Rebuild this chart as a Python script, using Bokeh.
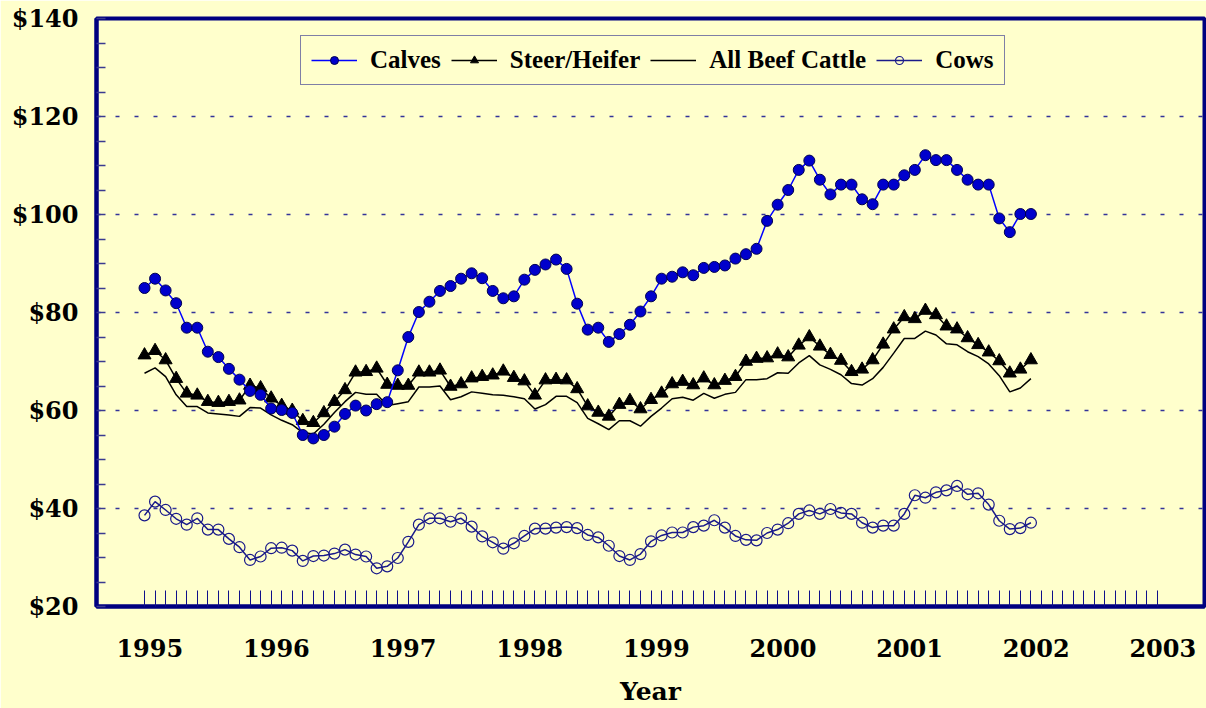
import numpy as np
from bokeh.plotting import figure
from bokeh.models import FixedTicker, Legend, LegendItem, Range1d
from bokeh.embed import file_html
from bokeh.resources import INLINE

# ---- data (monthly, Jan 1995 .. Jan 2002) ----
months = [f"{y}-{m:02d}" for y in range(1995, 2002) for m in range(1, 13)] + ["2002-01"]
year_labels = ["1995", "1996", "1997", "1998", "1999", "2000", "2001", "2002", "2003"]
y_tick_values = [20, 40, 60, 80, 100, 120, 140]
y_tick_labels = ["$20", "$40", "$60", "$80", "$100", "$120", "$140"]

calves = [85.0, 86.9, 84.5, 81.9, 76.9, 76.9, 72.0, 70.9, 68.5, 66.3, 64.0, 63.2,
          60.4, 60.1, 59.5, 55.0, 54.3, 55.0, 56.7, 59.3, 61.0, 60.0, 61.3, 61.7,
          68.2, 75.0, 80.1, 82.2, 84.4, 85.4, 86.9, 88.0, 87.0, 84.4, 82.9, 83.3,
          86.7, 88.7, 89.8, 90.8, 88.9, 81.8, 76.5, 76.9, 74.0, 75.6, 77.5, 80.2,
          83.3, 86.9, 87.3, 88.2, 87.6, 89.1, 89.3, 89.6, 91.0, 91.9, 93.0, 98.7,
          102.0, 105.0, 109.1, 111.0, 107.1, 104.1, 106.1, 106.1, 103.1, 102.1, 106.1, 106.1,
          108.0, 109.1, 112.1, 111.1, 111.1, 109.1, 107.1, 106.1, 106.1, 99.2, 96.4, 100.1,
          100.1]

steer_heifer = [71.3, 72.2, 70.3, 66.5, 63.5, 63.1, 61.8, 61.6, 61.8, 62.1, 65.1, 64.6,
                62.5, 61.0, 60.0, 57.9, 57.5, 59.5, 61.8, 64.2, 67.8, 67.9, 68.6, 65.3,
                65.1, 65.1, 67.8, 67.8, 68.2, 64.9, 65.4, 66.6, 66.9, 67.2, 68.0, 66.7,
                66.0, 63.1, 66.2, 66.3, 66.2, 64.4, 60.9, 59.6, 58.8, 61.2, 62.0, 60.3,
                62.2, 63.5, 65.4, 65.9, 65.2, 66.6, 65.2, 66.1, 66.9, 70.0, 70.6, 70.7,
                71.5, 70.9, 73.3, 75.0, 73.1, 71.4, 70.2, 67.9, 68.4, 70.3, 73.5, 76.6,
                79.1, 78.7, 80.4, 79.5, 77.2, 76.6, 74.8, 73.4, 71.9, 70.1, 67.6, 68.4,
                70.3]

all_beef = [67.6, 68.7, 66.9, 63.2, 60.8, 60.8, 59.5, 59.3, 59.1, 58.8, 60.6, 60.5,
            59.1, 58.0, 57.1, 55.5, 55.2, 57.2, 59.6, 61.8, 63.7, 63.3, 63.3, 61.0,
            61.4, 61.8, 64.8, 64.8, 65.0, 62.2, 62.8, 63.8, 63.5, 63.2, 63.1, 62.8,
            62.4, 60.3, 61.2, 62.9, 62.9, 61.6, 58.4, 57.3, 56.1, 57.9, 57.9, 56.8,
            58.8, 60.5, 62.4, 62.7, 62.1, 63.5, 62.5, 63.3, 63.7, 66.3, 66.3, 66.5,
            67.7, 67.6, 69.7, 71.2, 69.3, 68.4, 67.3, 65.5, 65.2, 66.5, 68.8, 71.7,
            74.7, 74.7, 76.2, 75.4, 73.6, 73.4, 72.0, 71.0, 69.5, 67.1, 63.8, 64.6,
            66.5]

cows = [38.6, 41.4, 39.7, 37.9, 36.7, 38.0, 35.7, 35.7, 33.8, 32.1, 29.5, 30.2,
        31.9, 32.0, 31.4, 29.3, 30.3, 30.4, 30.8, 31.6, 30.6, 30.2, 27.8, 28.2,
        29.9, 33.2, 36.7, 38.0, 38.0, 37.3, 38.0, 36.3, 34.3, 33.1, 31.8, 32.9,
        34.4, 35.9, 35.9, 36.1, 36.2, 36.0, 34.6, 34.1, 32.4, 30.3, 29.5, 30.7,
        33.3, 34.5, 35.1, 35.1, 36.2, 36.5, 37.6, 36.1, 34.4, 33.6, 33.5, 35.0,
        35.7, 37.0, 38.9, 39.6, 38.9, 39.9, 39.1, 38.9, 37.1, 36.1, 36.5, 36.5,
        38.9, 42.7, 42.2, 43.3, 43.7, 44.6, 42.9, 43.1, 40.8, 37.5, 35.8, 36.0,
        37.1]

x = list(range(len(months)))

BG = "#FFFFCC"
NAVY = "#000080"

p = figure(width=1206, height=708,
           x_range=Range1d(-4.55, 100.45), y_range=Range1d(20, 140),
           output_backend="svg", toolbar_location=None,
           min_border_left=96, min_border_right=2, min_border_top=18, min_border_bottom=101,
           background_fill_color=BG, border_fill_color=BG)

p.outline_line_color = NAVY
p.outline_line_width = 4

# grid
p.xgrid.visible = False
p.ygrid.ticker = FixedTicker(ticks=[40, 60, 80, 100, 120])
p.ygrid.grid_line_color = "#333399"
p.ygrid.grid_line_dash = "4 15"
p.ygrid.grid_line_width = 1.5

# x axis
xa = p.xaxis[0]
n_years = len(year_labels)
xa.ticker = FixedTicker(ticks=[12 * k + 0.5 for k in range(n_years)],
                        minor_ticks=list(range(12 * (n_years - 1) + 1)))
xa.major_label_overrides = {12 * k + 0.5: year_labels[k] for k in range(n_years)}
xa.major_tick_line_color = None
xa.major_tick_in = 0
xa.major_tick_out = 0
xa.minor_tick_in = 16
xa.minor_tick_out = 0
xa.minor_tick_line_color = "#10108a"
xa.minor_tick_line_width = 1
xa.axis_line_color = NAVY
xa.axis_line_width = 4
xa.major_label_text_font = "DejaVu Serif"
xa.major_label_text_font_style = "bold"
xa.major_label_text_font_size = "24px"
xa.major_label_text_color = "black"
xa.major_label_standoff = 32
xa.axis_label = "Year"
xa.axis_label_text_font = "DejaVu Serif"
xa.axis_label_text_font_style = "bold"
xa.axis_label_text_font_size = "25px"
xa.axis_label_text_color = "black"
xa.axis_label_standoff = 17

# y axis
ya = p.yaxis[0]
ya.ticker = FixedTicker(ticks=y_tick_values,
                        minor_ticks=[v for v in range(20, 141, 5) if v % 20 != 0])
ya.major_label_overrides = {v: l for v, l in zip(y_tick_values, y_tick_labels)}
ya.major_tick_in = 9
ya.major_tick_out = 0
ya.minor_tick_in = 9
ya.minor_tick_out = 0
ya.major_tick_line_color = "#3a3a90"
ya.minor_tick_line_color = "#3a3a90"
ya.major_tick_line_width = 1.5
ya.minor_tick_line_width = 1.5
ya.axis_line_color = NAVY
ya.axis_line_width = 4
ya.major_label_text_font = "DejaVu Serif"
ya.major_label_text_font_style = "bold"
ya.major_label_text_font_size = "24px"
ya.major_label_text_color = "black"
ya.major_label_standoff = 18

# series
cl = p.line(x, cows, line_color="#1a1a8a", line_width=1.5)
cs = p.scatter(x, cows, marker="circle", size=11, fill_color=None,
               line_color="#1a1a8a", line_width=1.2)
bl = p.line(x, all_beef, line_color="black", line_width=1.5)
sl = p.line(x, steer_heifer, line_color="black", line_width=1.5)
ss = p.scatter(x, steer_heifer, marker="triangle", size=13,
               fill_color="black", line_color="black")
vl = p.line(x, calves, line_color="#0000FF", line_width=1.5)
vs = p.scatter(x, calves, marker="circle", size=11, fill_color="#0000CC",
               line_color="#000050", line_width=1)

legend = Legend(items=[
    LegendItem(label="Calves", renderers=[vl, vs]),
    LegendItem(label="Steer/Heifer", renderers=[sl, ss]),
    LegendItem(label="All Beef Cattle", renderers=[bl]),
    LegendItem(label="Cows", renderers=[cl, cs]),
], orientation="horizontal", location=(204, 521))
legend.label_text_font = "Liberation Serif"
legend.label_text_font_style = "bold"
legend.label_text_font_size = "25px"
legend.label_text_color = "black"
legend.glyph_width = 46
legend.glyph_height = 20
legend.label_standoff = 13
legend.spacing = 10
legend.padding = 10
legend.margin = 0
legend.border_line_color = NAVY
legend.border_line_width = 1.5
legend.background_fill_color = BG
legend.background_fill_alpha = 1
p.add_layout(legend)

open("out.html", "w").write(file_html(p, INLINE))
